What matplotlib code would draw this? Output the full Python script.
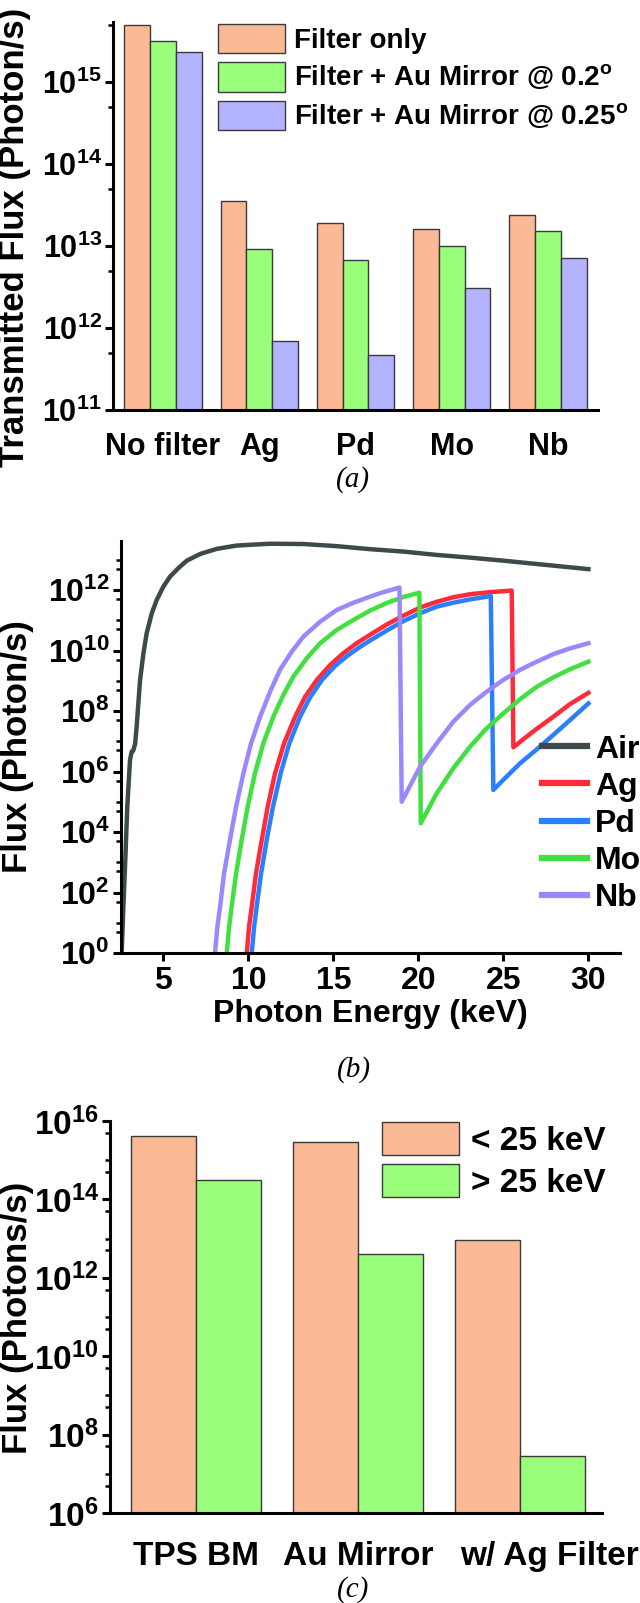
import numpy as np
import matplotlib
matplotlib.use('Agg')
import matplotlib.pyplot as plt
from matplotlib.ticker import FixedLocator, FuncFormatter, NullLocator
from matplotlib.transforms import ScaledTranslation

plt.rcParams['font.family'] = 'Liberation Sans'
plt.rcParams['font.weight'] = 'bold'
plt.rcParams['axes.labelweight'] = 'bold'
plt.rcParams['mathtext.fontset'] = 'custom'
plt.rcParams['mathtext.rm'] = 'Liberation Sans:bold'
plt.rcParams['mathtext.bf'] = 'Liberation Sans:bold'
plt.rcParams['axes.linewidth'] = 2.2

#%% data (a)
filters = ['No filter', 'Ag', 'Pd', 'Mo', 'Nb']
filter_only = [4.9e15, 3.5e13, 1.9e13, 1.6e13, 2.4e13]
mirror_020 = [3.15e15, 9.3e12, 6.7e12, 1.0e13, 1.5e13]
mirror_025 = [2.3e15, 6.9e11, 4.7e11, 3.1e12, 7.1e12]

#%% data (b) - photon energy (keV) and log10 flux
air_e = [2.55, 2.65, 2.77, 2.88, 3.04, 3.14, 3.22, 3.34, 3.43, 3.63, 3.83, 4.02, 4.32,
         4.61, 5.0, 5.39, 5.88, 6.38, 7.16, 8.14, 9.32, 11.28, 13.24, 15.2, 17.16,
         19.12, 21.08, 23.04, 25.0, 26.96, 30.0]
air_log = [0, 1.53, 3.19, 4.84, 6.38, 6.66, 6.68, 6.91, 7.48, 9.02, 9.91, 10.57, 11.23,
           11.67, 12.11, 12.44, 12.72, 12.97, 13.19, 13.36, 13.47, 13.53, 13.52, 13.45, 13.35,
           13.27, 13.16, 13.07, 12.97, 12.86, 12.69]
ag_e = [9.91, 10.04, 10.2, 10.45, 10.79, 11.14, 11.57, 12.1, 12.75, 13.34, 14.02, 14.81,
        15.59, 16.37, 17.16, 18.14, 19.12, 20.1, 21.08, 22.06, 23.04, 24.22, 25.49,
        25.59, 26.18, 26.96, 27.94, 28.92, 30.0]
ag_log = [0, 0.87, 1.53, 2.63, 3.74, 4.84, 5.94, 6.93, 7.81, 8.47, 9.02, 9.52,
          9.91, 10.24, 10.52, 10.86, 11.15, 11.42, 11.61, 11.76, 11.86, 11.93, 11.98,
          6.80, 7.07, 7.41, 7.81, 8.23, 8.60]
pd_e = [10.2, 10.34, 10.49, 10.75, 11.08, 11.45, 11.9, 12.41, 13.04, 13.63, 14.32, 15.1,
        15.88, 16.57, 17.16, 18.14, 19.12, 20.1, 21.08, 22.06, 23.04, 24.26,
        24.41, 24.99, 25.98, 26.96, 27.94, 28.92, 30.0]
pd_log = [0, 0.87, 1.53, 2.63, 3.74, 4.84, 5.94, 6.93, 7.81, 8.45, 9.02, 9.49,
          9.85, 10.12, 10.33, 10.66, 10.97, 11.23, 11.45, 11.58, 11.69, 11.80,
          5.39, 5.72, 6.27, 6.73, 7.21, 7.70, 8.25]
mo_e = [8.73, 8.87, 9.02, 9.28, 9.61, 9.96, 10.39, 10.88, 11.47, 12.06, 12.65, 13.43,
        14.22, 15.2, 16.18, 17.16, 18.14, 19.12, 20.06,
        20.14, 21.08, 22.06, 23.04, 24.02, 25.0, 25.98, 26.96, 27.94, 28.92, 30.0]
mo_log = [0, 0.87, 1.53, 2.63, 3.74, 4.84, 5.94, 6.93, 7.81, 8.53, 9.14, 9.74,
          10.24, 10.68, 11.01, 11.32, 11.57, 11.77, 11.91,
          4.29, 5.28, 6.11, 6.82, 7.43, 7.92, 8.39, 8.80, 9.11, 9.38, 9.63]
nb_e = [8.04, 8.18, 8.34, 8.57, 8.92, 9.28, 9.71, 10.16, 10.69, 11.28, 11.86, 12.55,
        13.24, 14.22, 15.2, 16.18, 17.16, 17.94, 18.89,
        19.02, 20.1, 21.08, 22.06, 23.04, 24.02, 25.0, 25.98, 26.96, 27.94, 28.92, 30.0]
nb_log = [0, 0.87, 1.53, 2.63, 3.74, 4.84, 5.94, 6.93, 7.81, 8.64, 9.36, 9.96,
          10.46, 10.95, 11.34, 11.58, 11.78, 11.93, 12.08,
          5.0, 6.16, 6.93, 7.65, 8.2, 8.64, 9.03, 9.36, 9.63, 9.88, 10.07, 10.24]

#%% data (c)
sources = ['TPS BM', 'Au Mirror', 'w/ Ag Filter']
below_25 = [4.2e15, 2.9e15, 9.1e12]
above_25 = [3.1e14, 4.1e12, 2.8e7]

c_orange = '#FBB995'
c_green = '#99FF7A'
c_blue = '#B3B3FF'
edge = '#3a3a3a'


def fmt_pow(v, p):
    return r'$\mathbf{10^{%d}}$' % int(round(np.log10(v)))


def style(ax):
    for s in ['top', 'right']:
        ax.spines[s].set_visible(False)
    ax.tick_params(which='major', direction='out', length=6, width=2.2)
    ax.tick_params(which='minor', direction='out', length=3.5, width=1.8)


fig = plt.figure(figsize=(6.4, 16.03), dpi=100)

#%% panel (a)
ax = fig.add_axes([113/640, 1-410/1603, 485/640, 388/1603])
x = np.arange(len(filters))
w = 0.267
ax.bar(x - w, filter_only, w, color=c_orange, edgecolor=edge, lw=1, label='Filter only')
ax.bar(x, mirror_020, w, color=c_green, edgecolor=edge, lw=1, label='Filter + Au Mirror @ 0.2$^\\mathbf{o}$')
ax.bar(x + w, mirror_025, w, color=c_blue, edgecolor=edge, lw=1, label='Filter + Au Mirror @ 0.25$^\\mathbf{o}$')
ax.set_yscale('log')
ax.set_ylim(1e11, 10**15.73)
ax.set_xlim(-0.52, 4.52)
style(ax)
ax.yaxis.set_major_locator(FixedLocator([1e11, 1e12, 1e13, 1e14, 1e15]))
ax.yaxis.set_minor_locator(FixedLocator([5e11, 5e12, 5e13, 5e14, 5e15]))
ax.yaxis.set_major_formatter(FuncFormatter(fmt_pow))
ax.yaxis.set_minor_formatter(FuncFormatter(lambda v, p: ''))
ax.set_xticks(x)
ax.set_xticklabels(filters, fontsize=22)
ax.tick_params(axis='x', length=0, pad=16)
ax.tick_params(axis='y', labelsize=22, pad=2)
ax.set_ylabel('Transmitted Flux (Photon/s)', fontsize=25)
ax.yaxis.set_label_coords(-0.169, 0.446)
ax.legend(loc='upper left', bbox_to_anchor=(0.2165, 0.995), frameon=False, fontsize=20,
          handlelength=2.4, handleheight=1.25, handletextpad=0.35, labelspacing=0.3,
          borderpad=0, borderaxespad=0)
fig.text(353/640, 1-480/1603, '(a)', fontsize=21, family='Liberation Serif',
         style='italic', weight='normal', ha='center', va='center')

#%% panel (b)
ax = fig.add_axes([121/640, 1-953/1603, 499/640, 412/1603])
ax.plot(air_e, np.power(10.0, air_log), color='#3D4A4C', lw=3.2, label='Air')
ax.plot(ag_e, np.power(10.0, ag_log), color='#FF2A3A', lw=3.2, label='Ag')
ax.plot(pd_e, np.power(10.0, pd_log), color='#2A7FFF', lw=3.2, label='Pd')
ax.plot(mo_e, np.power(10.0, mo_log), color='#3FE03F', lw=3.2, label='Mo')
ax.plot(nb_e, np.power(10.0, nb_log), color='#9A88FF', lw=3.2, label='Nb')
ax.set_yscale('log')
ax.set_ylim(1, 10**13.62)
ax.set_xlim(2.51, 31.86)
style(ax)
ax.yaxis.set_major_locator(FixedLocator([10.0**k for k in range(0, 14, 2)]))
ax.yaxis.set_minor_locator(FixedLocator([10.0**k for k in range(1, 14, 2)] +
                                        [5 * 10.0**k for k in range(0, 13)]))
ax.yaxis.set_major_formatter(FuncFormatter(fmt_pow))
ax.yaxis.set_minor_formatter(FuncFormatter(lambda v, p: ''))
ax.set_xticks([5, 10, 15, 20, 25, 30])
ax.xaxis.set_minor_locator(NullLocator())
ax.tick_params(axis='both', labelsize=23)
ax.tick_params(axis='y', pad=2)
ax.set_xlabel('Photon Energy (keV)', fontsize=23, labelpad=2)
ax.set_ylabel('Flux (Photon/s)', fontsize=25)
ax.yaxis.set_label_coords(-0.174, 0.5)
leg = ax.legend(loc='upper left', bbox_to_anchor=(0.844, 0.53), frameon=False, fontsize=23,
                handlelength=1.4, handletextpad=0.25, labelspacing=0.22,
                borderpad=0, borderaxespad=0)
for h in leg.get_lines():
    h.set_linewidth(4.5)
fig.text(354/640, 1-1070/1603, '(b)', fontsize=21, family='Liberation Serif',
         style='italic', weight='normal', ha='center', va='center')

#%% panel (c)
ax = fig.add_axes([110/640, 1-1513/1603, 492/640, 392/1603])
x = np.arange(len(sources))
w = 0.4
ax.bar(x - w/2, below_25, w, color=c_orange, edgecolor=edge, lw=1, label='< 25 keV')
ax.bar(x + w/2, above_25, w, color=c_green, edgecolor=edge, lw=1, label='> 25 keV')
ax.set_yscale('log')
ax.set_ylim(1e6, 1e16)
ax.set_xlim(-0.531, 2.506)
style(ax)
ax.yaxis.set_major_locator(FixedLocator([10.0**k for k in range(6, 17, 2)]))
ax.yaxis.set_minor_locator(FixedLocator([10.0**k for k in range(7, 17, 2)] +
                                        [5 * 10.0**k for k in range(6, 16)]))
ax.yaxis.set_major_formatter(FuncFormatter(fmt_pow))
ax.yaxis.set_minor_formatter(FuncFormatter(lambda v, p: ''))
ax.set_xticks(x)
ax.set_xticklabels(sources, fontsize=24)
ax.tick_params(axis='x', length=0, pad=20)
ax.tick_params(axis='y', labelsize=24, pad=2)
# last category label sits shifted to the right in the original
lbl = ax.get_xticklabels()[2]
lbl.set_transform(lbl.get_transform() + ScaledTranslation(0.29, 0, fig.dpi_scale_trans))
ax.set_ylabel('Flux (Photons/s)', fontsize=25)
ax.yaxis.set_label_coords(-0.154, 0.497)
ax.legend(loc='upper left', bbox_to_anchor=(0.553, 0.997), frameon=False, fontsize=24,
          handlelength=2.3, handleheight=1.15, handletextpad=0.37, labelspacing=0.2,
          borderpad=0, borderaxespad=0)
fig.text(353/640, 1-1590/1603, '(c)', fontsize=21, family='Liberation Serif',
         style='italic', weight='normal', ha='center', va='center')

fig.savefig('out.png', dpi=100)
